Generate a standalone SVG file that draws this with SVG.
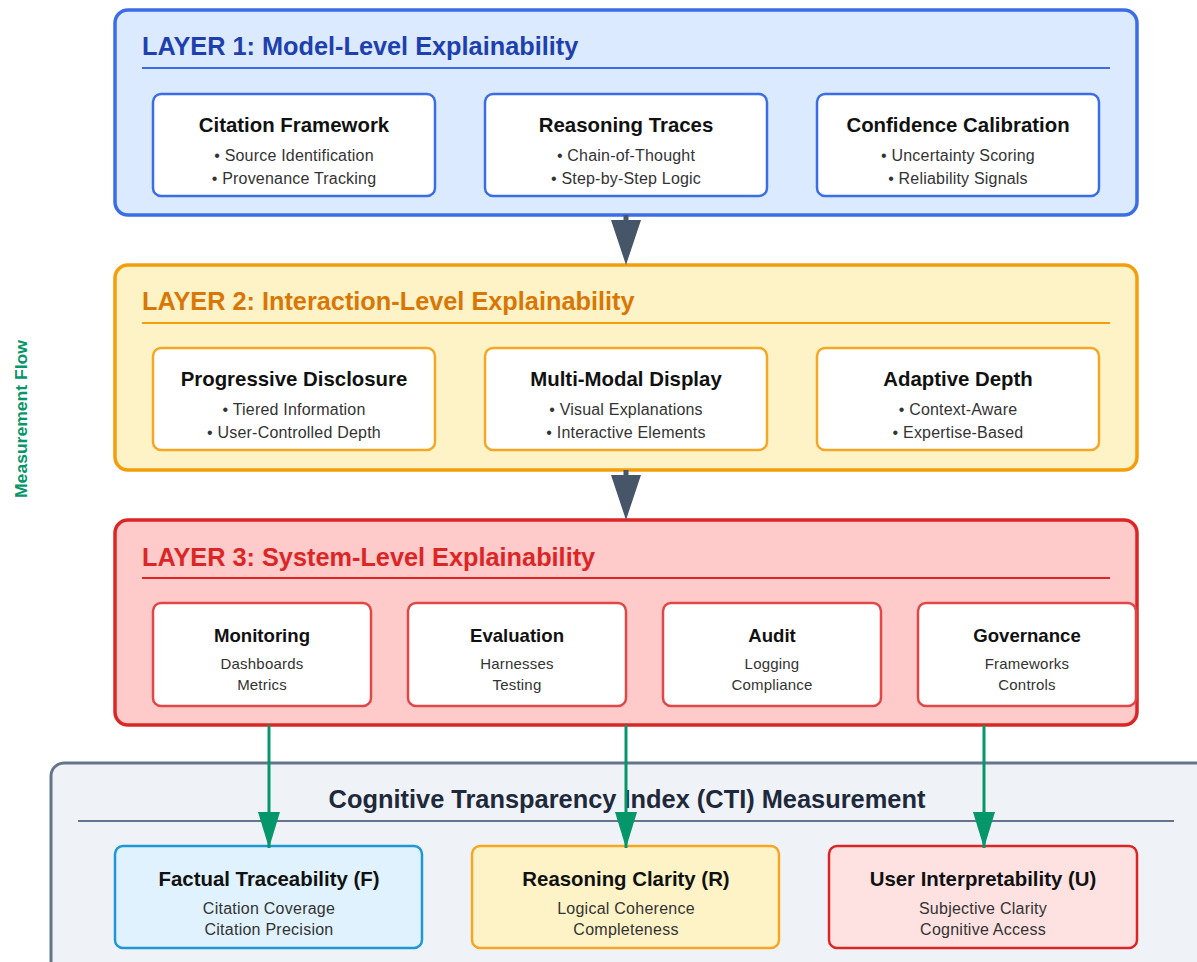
<svg xmlns="http://www.w3.org/2000/svg" width="1197" height="962" viewBox="0 0 1197 962">
  <style>
    text { font-family: "Liberation Sans", Arial, sans-serif; }
    .layer-title { font-size: 25.3px; font-weight: bold; }
    .box-title { font-size: 20.4px; font-weight: bold; fill: #111; text-anchor: middle; }
    .l3-title { font-size: 18.6px; font-weight: bold; fill: #111; text-anchor: middle; }
    .bullet { font-size: 16px; letter-spacing: 0.2px; fill: #333; text-anchor: middle; }
    .sub { font-size: 15px; letter-spacing: 0.2px; fill: #333; text-anchor: middle; }
    .cti-sub { font-size: 16px; letter-spacing: 0.25px; fill: #333; text-anchor: middle; }
    .inner { fill: #ffffff; stroke-width: 2.5; }
    .l1 { fill: #dbeafe; stroke: #3b6ee6; stroke-width: 3.5; }
    .l2 { fill: #fef3c7; stroke: #f59e0b; stroke-width: 3.5; }
    .l3 { fill: #fecaca; stroke: #dc2626; stroke-width: 3.5; }
    .flow-down { fill: #475569; }
    .cti-link { stroke: #059669; stroke-width: 3; fill: none; }
  </style>
  <defs>
    <marker id="greenHead" markerWidth="36" markerHeight="22" refX="36" refY="11" orient="auto" markerUnits="userSpaceOnUse" viewBox="0 0 36 22">
      <path d="M0,0 L36,11 L0,22 Z" fill="#059669"/>
    </marker>
  </defs>

  <rect width="1197" height="962" fill="#ffffff"/>

  <!-- Side label -->
  <text x="27" y="419" transform="rotate(-90 27 419)" text-anchor="middle" font-size="17" font-weight="bold" fill="#059669" textLength="158" lengthAdjust="spacingAndGlyphs">Measurement Flow</text>

  <!-- Layer 1 -->
  <g id="layer1">
    <rect class="l1" x="115" y="10" width="1022" height="205" rx="13"/>
    <text class="layer-title" x="142" y="55" fill="#1e40af">LAYER 1: Model-Level Explainability</text>
    <line x1="142" y1="68" x2="1110" y2="68" stroke="#3b6ee6" stroke-width="2"/>
  </g>
  <g id="citation-framework">
    <rect class="inner" stroke="#3b6ee6" x="153" y="94" width="282" height="102" rx="8"/>
    <text class="box-title" x="294" y="132">Citation Framework</text>
    <text class="bullet" x="294" y="161">• Source Identification</text>
    <text class="bullet" x="294" y="184">• Provenance Tracking</text>
  </g>
  <g id="reasoning-traces">
    <rect class="inner" stroke="#3b6ee6" x="485" y="94" width="282" height="102" rx="8"/>
    <text class="box-title" x="626" y="132">Reasoning Traces</text>
    <text class="bullet" x="626" y="161">• Chain-of-Thought</text>
    <text class="bullet" x="626" y="184">• Step-by-Step Logic</text>
  </g>
  <g id="confidence-calibration">
    <rect class="inner" stroke="#3b6ee6" x="817" y="94" width="282" height="102" rx="8"/>
    <text class="box-title" x="958" y="132">Confidence Calibration</text>
    <text class="bullet" x="958" y="161">• Uncertainty Scoring</text>
    <text class="bullet" x="958" y="184">• Reliability Signals</text>
  </g>

  <!-- Layer 2 -->
  <g id="layer2">
    <rect class="l2" x="115" y="265" width="1022" height="205" rx="13"/>
    <text class="layer-title" x="142" y="310" fill="#d97706">LAYER 2: Interaction-Level Explainability</text>
    <line x1="142" y1="323" x2="1110" y2="323" stroke="#f59e0b" stroke-width="2"/>
  </g>
  <g id="progressive-disclosure">
    <rect class="inner" stroke="#f5a623" x="153" y="348" width="282" height="102" rx="8"/>
    <text class="box-title" x="294" y="386">Progressive Disclosure</text>
    <text class="bullet" x="294" y="415">• Tiered Information</text>
    <text class="bullet" x="294" y="438">• User-Controlled Depth</text>
  </g>
  <g id="multi-modal-display">
    <rect class="inner" stroke="#f5a623" x="485" y="348" width="282" height="102" rx="8"/>
    <text class="box-title" x="626" y="386">Multi-Modal Display</text>
    <text class="bullet" x="626" y="415">• Visual Explanations</text>
    <text class="bullet" x="626" y="438">• Interactive Elements</text>
  </g>
  <g id="adaptive-depth">
    <rect class="inner" stroke="#f5a623" x="817" y="348" width="282" height="102" rx="8"/>
    <text class="box-title" x="958" y="386">Adaptive Depth</text>
    <text class="bullet" x="958" y="415">• Context-Aware</text>
    <text class="bullet" x="958" y="438">• Expertise-Based</text>
  </g>

  <!-- Layer 3 -->
  <g id="layer3">
    <rect class="l3" x="115" y="520" width="1022" height="205" rx="13"/>
    <text class="layer-title" x="142" y="566" fill="#dc2626">LAYER 3: System-Level Explainability</text>
    <line x1="142" y1="578" x2="1110" y2="578" stroke="#dc2626" stroke-width="2"/>
  </g>
  <g id="monitoring">
    <rect class="inner" stroke="#e04848" x="153" y="603" width="218" height="103" rx="8"/>
    <text class="l3-title" x="262" y="642">Monitoring</text>
    <text class="sub" x="262" y="669">Dashboards</text>
    <text class="sub" x="262" y="690">Metrics</text>
  </g>
  <g id="evaluation">
    <rect class="inner" stroke="#e04848" x="408" y="603" width="218" height="103" rx="8"/>
    <text class="l3-title" x="517" y="642">Evaluation</text>
    <text class="sub" x="517" y="669">Harnesses</text>
    <text class="sub" x="517" y="690">Testing</text>
  </g>
  <g id="audit">
    <rect class="inner" stroke="#e04848" x="663" y="603" width="218" height="103" rx="8"/>
    <text class="l3-title" x="772" y="642">Audit</text>
    <text class="sub" x="772" y="669">Logging</text>
    <text class="sub" x="772" y="690">Compliance</text>
  </g>
  <g id="governance">
    <rect class="inner" stroke="#e04848" x="918" y="603" width="218" height="103" rx="8"/>
    <text class="l3-title" x="1027" y="642">Governance</text>
    <text class="sub" x="1027" y="669">Frameworks</text>
    <text class="sub" x="1027" y="690">Controls</text>
  </g>

  <!-- CTI measurement panel -->
  <g id="cti-panel">
    <rect x="51" y="763" width="1170" height="230" rx="13" fill="#eff3f8" stroke="#64748b" stroke-width="3"/>
    <text x="627" y="808" text-anchor="middle" font-size="25.4" font-weight="bold" fill="#1e293b">Cognitive Transparency Index (CTI) Measurement</text>
    <line x1="78" y1="821" x2="1174" y2="821" stroke="#64748b" stroke-width="2"/>
  </g>
  <g id="factual-traceability">
    <rect x="115" y="846" width="307" height="102" rx="8" fill="#e0f2fe" stroke="#1f97d4" stroke-width="2.5"/>
    <text class="box-title" x="269" y="886">Factual Traceability (F)</text>
    <text class="cti-sub" x="269" y="914">Citation Coverage</text>
    <text class="cti-sub" x="269" y="935">Citation Precision</text>
  </g>
  <g id="reasoning-clarity">
    <rect x="472" y="846" width="307" height="102" rx="8" fill="#fef3c7" stroke="#f5a623" stroke-width="2.5"/>
    <text class="box-title" x="626" y="886">Reasoning Clarity (R)</text>
    <text class="cti-sub" x="626" y="914">Logical Coherence</text>
    <text class="cti-sub" x="626" y="935">Completeness</text>
  </g>
  <g id="user-interpretability">
    <rect x="829" y="846" width="308" height="102" rx="8" fill="#fee2e2" stroke="#dc2626" stroke-width="2.5"/>
    <text class="box-title" x="983" y="886">User Interpretability (U)</text>
    <text class="cti-sub" x="983" y="914">Subjective Clarity</text>
    <text class="cti-sub" x="983" y="935">Cognitive Access</text>
  </g>

  <!-- Connectors -->
  <g id="connectors">
    <path class="flow-down" d="M623.5,215 L628.5,215 L628.5,220 L641,220 L626,265 L611,220 L623.5,220 Z"/>
    <path class="flow-down" d="M623.5,470 L628.5,470 L628.5,475 L641,475 L626,520 L611,475 L623.5,475 Z"/>
    <line class="cti-link" x1="269" y1="725" x2="269" y2="848" marker-end="url(#greenHead)"/>
    <line class="cti-link" x1="626" y1="725" x2="626" y2="848" marker-end="url(#greenHead)"/>
    <line class="cti-link" x1="984" y1="725" x2="984" y2="848" marker-end="url(#greenHead)"/>
  </g>
</svg>
